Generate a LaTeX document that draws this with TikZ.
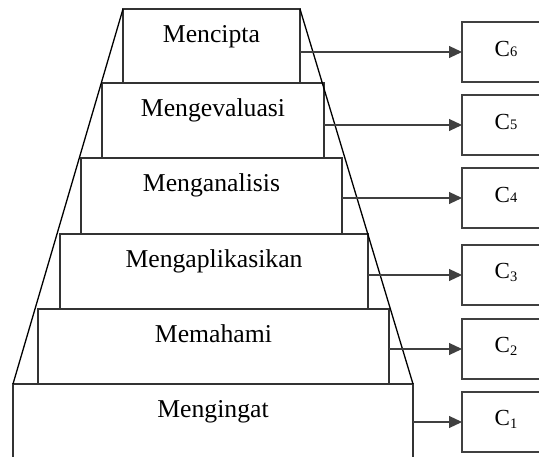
\documentclass[tikz,border=0pt]{standalone}
\usepackage{fontspec}
\setmainfont{Liberation Serif}
\usetikzlibrary{arrows.meta}
\begin{document}
\begin{tikzpicture}[x=1pt,y=-1pt,
  lvlbox/.style={draw=black!80, line width=1.3pt, fill=white, anchor=north west,
    inner sep=0pt, outer sep=0pt},
  cbox/.style={draw=black!75, line width=1.2pt, fill=white, anchor=north west,
    inner sep=0pt, outer sep=0pt, minimum width=90pt, minimum height=60pt},
  lvltext/.style={anchor=base, inner sep=0pt, font=\fontsize{25.7pt}{30pt}\selectfont},
  ctext/.style={anchor=base, inner sep=0pt, font=\fontsize{23pt}{27pt}\selectfont},
  side/.style={draw=black, line width=1.3pt},
  link/.style={draw=black!75, line width=1.1pt, -{Triangle[length=13pt,width=12pt]}}
]
\useasboundingbox (0,0) rectangle (539,457);
\clip (0,0) rectangle (539,457);
\newcommand{\subup}[1]{{\fontsize{14.5pt}{15pt}\selectfont #1}}
\newcommand{\subdn}[1]{\raisebox{-3pt}{\fontsize{14.5pt}{15pt}\selectfont #1}}

% pyramid levels
\node[lvlbox, minimum width=400pt, minimum height=95pt] (L1) at (13,384) {};
\node[lvlbox, minimum width=351pt, minimum height=75pt] (L2) at (38,309) {};
\node[lvlbox, minimum width=308pt, minimum height=75pt] (L3) at (60,234) {};
\node[lvlbox, minimum width=261pt, minimum height=76pt] (L4) at (81,158) {};
\node[lvlbox, minimum width=222pt, minimum height=75pt] (L5) at (102,83) {};
\node[lvlbox, minimum width=177pt, minimum height=74pt] (L6) at (123,9) {};

\node[lvltext] (T1) at ([yshift=-34pt]L1.north) {Mengingat};
\node[lvltext] (T2) at ([yshift=-34pt]L2.north) {Memahami};
\node[lvltext] (T3) at ([yshift=-34pt]L3.north) {Mengaplikasikan};
\node[lvltext] (T4) at ([yshift=-34pt]L4.north) {Menganalisis};
\node[lvltext] (T5) at ([yshift=-34pt]L5.north) {Mengevaluasi};
\node[lvltext] (T6) at ([yshift=-34pt]L6.north) {Mencipta};

% sides of the pyramid
\draw[side] (L6.north west) -- (L1.north west);
\draw[side] (L6.north east) -- (L1.north east);

% C boxes
\node[cbox] (C6) at (462,22) {};
\node[cbox] (C5) at (462,95) {};
\node[cbox] (C4) at (462,168) {};
\node[cbox] (C3) at (462,245) {};
\node[cbox] (C2) at (462,319) {};
\node[cbox] (C1) at (462,392) {};

\node[ctext] (K6) at ([xshift=-1pt,yshift=-35pt]C6.north) {C\subup{6}};
\node[ctext] (K5) at ([xshift=-1pt,yshift=-35pt]C5.north) {C\subup{5}};
\node[ctext] (K4) at ([xshift=-1pt,yshift=-35pt]C4.north) {C\subup{4}};
\node[ctext] (K3) at ([xshift=-1pt,yshift=-34pt]C3.north) {C\subdn{3}};
\node[ctext] (K2) at ([xshift=-1pt,yshift=-34pt]C2.north) {C\subdn{2}};
\node[ctext] (K1) at ([xshift=-1pt,yshift=-34pt]C1.north) {C\subdn{1}};

% connectors
\draw[link] (L6.east |- C6.west) -- (C6.west);
\draw[link] (L5.east |- C5.west) -- (C5.west);
\draw[link] (L4.east |- C4.west) -- (C4.west);
\draw[link] (L3.east |- C3.west) -- (C3.west);
\draw[link] (L2.east |- C2.west) -- (C2.west);
\draw[link] (L1.east |- C1.west) -- (C1.west);
\end{tikzpicture}
\end{document}
